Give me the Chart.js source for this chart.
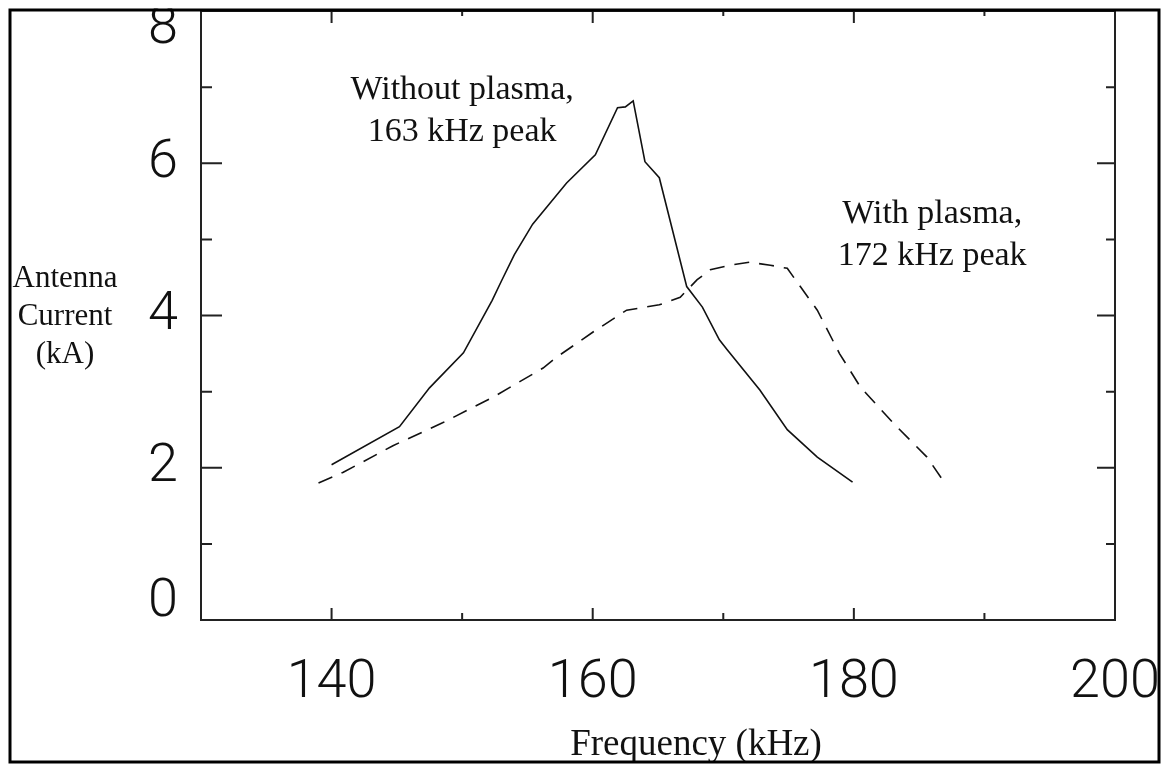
<!DOCTYPE html>
<html>
<head>
<meta charset="utf-8">
<script src="https://cdn.jsdelivr.net/npm/chart.js@4.4.0/dist/chart.umd.min.js"></script>
<style>
  html, body { margin: 0; padding: 0; background: #fff; }
  #wrap { width: 1162px; height: 765px; }
</style>
</head>
<body>
<div id="wrap"><canvas id="chart" width="1162" height="765"></canvas></div>
<script>
// Values (frequency in kHz, antenna current in kA)
const freqNoPlasma = [140.0, 145.2, 147.5, 150.1, 152.3, 153.0, 154.0, 155.4, 158.0, 160.2, 161.9, 162.5, 163.1, 164.0, 165.1, 167.2, 168.4, 169.7, 170.3, 172.8, 174.9, 177.2, 179.9];
const currentNoPlasma = [2.04, 2.54, 3.05, 3.51, 4.20, 4.45, 4.80, 5.20, 5.74, 6.11, 6.73, 6.74, 6.82, 6.02, 5.81, 4.38, 4.11, 3.68, 3.55, 3.02, 2.50, 2.14, 1.81];

const freqPlasma = [139.0, 140.9, 144.7, 148.5, 152.4, 156.2, 157.3, 160.0, 161.7, 162.6, 165.1, 166.7, 168.0, 169.0, 170.5, 172.0, 173.6, 174.9, 175.9, 177.2, 178.9, 180.5, 183.0, 185.6, 186.8];
const currentPlasma = [1.80, 1.94, 2.29, 2.59, 2.93, 3.31, 3.46, 3.78, 3.97, 4.07, 4.14, 4.24, 4.47, 4.60, 4.66, 4.70, 4.66, 4.62, 4.38, 4.07, 3.50, 3.06, 2.59, 2.14, 1.84];

const xMajorTicks = [140, 160, 180, 200];
const xMinorTicks = [150, 170, 190];
const yMajorTicks = [0, 2, 4, 6, 8];
const yMinorTicks = [1, 3, 5, 7];

const xTitle = 'Frequency (kHz)';
const yTitle = ['Antenna', 'Current', '(kA)'];
const noteNoPlasma = ['Without plasma,', '163 kHz peak'];
const notePlasma = ['With plasma,', '172 kHz peak'];

const ink = '#111';
const serif = '"Liberation Serif", "DejaVu Serif", serif';
const sans = 'Roboto, "Liberation Sans", sans-serif';

function toPoints(xs, ys) {
  return xs.map((x, i) => ({ x: x, y: ys[i] }));
}

function drawLines(ctx, lines, cx, cy, gap) {
  const top = cy - (lines.length - 1) * gap / 2;
  lines.forEach((t, i) => ctx.fillText(t, cx, top + i * gap));
}

const framePlugin = {
  id: 'frame',
  afterDraw(chart) {
    const ctx = chart.ctx;
    const a = chart.chartArea;
    const xs = chart.scales.x;
    const ys = chart.scales.y;
    ctx.save();

    // plot box
    ctx.strokeStyle = '#222';
    ctx.lineWidth = 2;
    ctx.strokeRect(a.left, a.top, a.right - a.left, a.bottom - a.top);

    // inward ticks
    ctx.beginPath();
    xMajorTicks.concat(xMinorTicks).forEach(v => {
      const px = xs.getPixelForValue(v);
      const major = xMajorTicks.includes(v);
      ctx.moveTo(px, a.bottom); ctx.lineTo(px, a.bottom - (major ? 12 : 7));
      ctx.moveTo(px, a.top); ctx.lineTo(px, a.top + (major ? 12 : 5));
    });
    yMajorTicks.concat(yMinorTicks).forEach(v => {
      const py = ys.getPixelForValue(v);
      const major = yMajorTicks.includes(v);
      ctx.moveTo(a.left, py); ctx.lineTo(a.left + (major ? 21 : 11), py);
      ctx.moveTo(a.right, py); ctx.lineTo(a.right - (major ? 18 : 9), py);
    });
    ctx.stroke();

    // tick labels
    ctx.fillStyle = ink;
    ctx.font = '300 54px ' + sans;
    ctx.textAlign = 'center';
    ctx.textBaseline = 'middle';
    xMajorTicks.forEach(v => ctx.fillText(String(v), xs.getPixelForValue(v), 683));
    ctx.textAlign = 'right';
    yMajorTicks.forEach(v => {
      let py = ys.getPixelForValue(v);
      if (v === ys.min) py -= 18;
      if (v === ys.max) py += 18;
      ctx.fillText(String(v), 178, py);
    });

    // annotations
    ctx.font = '34px ' + serif;
    ctx.textAlign = 'center';
    drawLines(ctx, noteNoPlasma, xs.getPixelForValue(150), ys.getPixelForValue(6.68), 42);
    drawLines(ctx, notePlasma, xs.getPixelForValue(186), ys.getPixelForValue(5.05), 42);

    // axis titles
    ctx.font = '31px ' + serif;
    drawLines(ctx, yTitle, 65, 317, 38);
    ctx.font = '37px ' + serif;
    ctx.fillText(xTitle, 696, 745);

    // outer border, clipping anything past it
    ctx.fillStyle = '#fff';
    ctx.fillRect(0, 0, chart.width, 8.5);
    ctx.fillRect(0, 0, 8.5, chart.height);
    ctx.fillRect(1160.5, 0, chart.width - 1160.5, chart.height);
    ctx.fillRect(0, 763.5, chart.width, chart.height - 763.5);
    ctx.strokeStyle = '#000';
    ctx.lineWidth = 3;
    ctx.strokeRect(10, 10, 1149, 752);
    ctx.restore();
  }
};

new Chart(document.getElementById('chart').getContext('2d'), {
  type: 'line',
  data: {
    datasets: [
      {
        label: 'Without plasma',
        data: toPoints(freqNoPlasma, currentNoPlasma),
        borderColor: ink,
        borderWidth: 1.6,
        pointRadius: 0,
        tension: 0,
        fill: false
      },
      {
        label: 'With plasma',
        data: toPoints(freqPlasma, currentPlasma),
        borderColor: ink,
        borderWidth: 1.6,
        borderDash: [15, 10],
        pointRadius: 0,
        tension: 0,
        fill: false
      }
    ]
  },
  options: {
    responsive: false,
    devicePixelRatio: 1,
    animation: false,
    layout: { padding: { top: 11, right: 47, left: 0, bottom: 0 } },
    plugins: { legend: { display: false }, tooltip: { enabled: false } },
    scales: {
      x: {
        type: 'linear',
        min: 130,
        max: 200,
        ticks: { display: false, stepSize: 10 },
        grid: { display: false },
        border: { display: false },
        afterFit: s => { s.height = 145; }
      },
      y: {
        min: 0,
        max: 8,
        ticks: { display: false, stepSize: 1 },
        grid: { display: false },
        border: { display: false },
        afterFit: s => { s.width = 201; }
      }
    }
  },
  plugins: [framePlugin]
});
</script>
</body>
</html>
